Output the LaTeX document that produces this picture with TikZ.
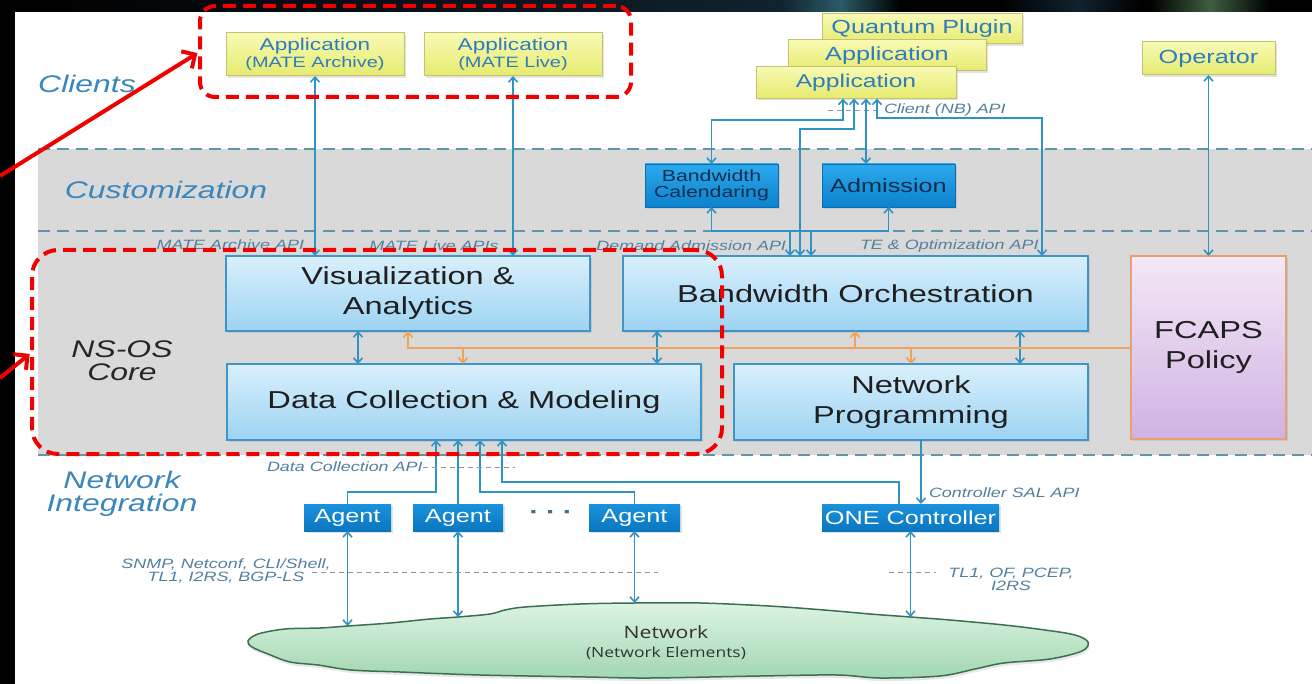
\documentclass[tikz,border=0pt]{standalone}
\usepackage{fontspec}
\setmainfont[FakeStretch=1.33]{Liberation Sans}
\newfontfamily\cloudfont[FakeStretch=1.25]{Open Sans}
\usetikzlibrary{arrows.meta,shadows}

\newcommand\fsz[2]{\fontsize{#1}{#2}\selectfont}

\definecolor{panelgray}{HTML}{D9D9D9}
\definecolor{layerteal}{HTML}{5D98AA}
\definecolor{linkblue}{HTML}{2F93C4}
\definecolor{feedorange}{HTML}{F0A35A}
\definecolor{tagblue}{HTML}{52809F}
\definecolor{bandblue}{HTML}{3A86BD}
\definecolor{coretop}{HTML}{D9F0FC}
\definecolor{corebot}{HTML}{9DD3F3}
\definecolor{coreedge}{HTML}{3F95C8}
\definecolor{custtop}{HTML}{2CAAEE}
\definecolor{custbot}{HTML}{0C80CC}
\definecolor{custedge}{HTML}{0A6FB0}
\definecolor{custtext}{HTML}{0F2D4D}
\definecolor{agenttop}{HTML}{1A92DC}
\definecolor{agentbot}{HTML}{0A76C0}
\definecolor{ytop}{HTML}{F8FAB4}
\definecolor{ybot}{HTML}{E6EB6E}
\definecolor{yedge}{HTML}{C2C270}
\definecolor{ytext}{HTML}{2E7BBD}
\definecolor{fctop}{HTML}{F4E8F7}
\definecolor{fcbot}{HTML}{CFB2E3}
\definecolor{fcedge}{HTML}{E8A070}
\definecolor{cloudtop}{HTML}{DDF4E3}
\definecolor{cloudbot}{HTML}{A3D7B2}
\definecolor{cloudedge}{HTML}{3A7050}
\definecolor{hintgray}{HTML}{8A9AA5}
\definecolor{calloutred}{HTML}{F00000}
\definecolor{stripA}{HTML}{10222E}
\definecolor{stripB}{HTML}{2C5A66}
\definecolor{stripC}{HTML}{3E5E40}
\definecolor{dotblue}{HTML}{3B6F95}

\tikzset{
  dims/.style 2 args={minimum width=#1pt, minimum height=#2pt},
  softshadow/.style={drop shadow={shadow xshift=1.5pt, shadow yshift=-2pt, opacity=0.22}},
  corebox/.style={draw=coreedge, line width=1.2pt, top color=coretop, bottom color=corebot,
    text=black!88, align=center, font=\fsz{24.5}{30}, softshadow},
  custbox/.style={draw=custedge, line width=0.8pt, top color=custtop, bottom color=custbot,
    text=custtext, align=center, softshadow},
  agentbox/.style={top color=agenttop, bottom color=agentbot, text=white,
    font=\fsz{19}{19}, softshadow},
  ybox/.style={draw=yedge, line width=1pt, top color=ytop, bottom color=ybot,
    text=ytext, align=center, softshadow},
  fcbox/.style={draw=fcedge, line width=1.2pt, top color=fctop, bottom color=fcbot,
    text=black!88, align=center, font=\fsz{24.5}{30}, softshadow},
  link/.style={draw=linkblue, line width=1.6pt},
  twoway/.style={link, {Straight Barb[length=5pt,width=9pt]}-{Straight Barb[length=5pt,width=9pt]}},
  oneway/.style={link, -{Straight Barb[length=5pt,width=9pt]}},
  feedline/.style={draw=feedorange, line width=1.8pt},
  feedtip/.style={feedline, -{Straight Barb[length=5pt,width=9pt]}},
  tag/.style={font=\fsz{13.5}{13}\itshape, text=tagblue},
  layerlabel/.style={font=\fsz{24}{23}\itshape, text=bandblue, align=center},
  layerline/.style={draw=layerteal, line width=2pt, dash pattern=on 12pt off 7pt},
  hint/.style={draw=hintgray, line width=0.9pt, dash pattern=on 5pt off 4pt},
  redcallout/.style={draw=calloutred, line width=4pt, dash pattern=on 13pt off 7pt},
  redpointer/.style={draw=calloutred, line width=4pt, -{Straight Barb[length=10pt,width=20pt]}},
}

\begin{document}
\begin{tikzpicture}[x=1pt, y=-1pt, every node/.style={inner sep=0pt, outer sep=0pt}]
\useasboundingbox (0,0) rectangle (1312,684);

% frame and top strip
\fill[black] (0,0) rectangle (1312,684);
\shade[left color=black, right color=stripA] (15,0) rectangle (780,12);
\shade[left color=stripA, right color=stripB] (780,0) rectangle (840,12);
\shade[left color=stripB, right color=black] (840,0) rectangle (900,12);
\shade[left color=black, right color=stripA] (1000,0) rectangle (1080,12);
\shade[left color=stripA, right color=black] (1080,0) rectangle (1140,12);
\shade[left color=black, right color=stripC] (1150,0) rectangle (1210,12);
\shade[left color=stripC, right color=black] (1210,0) rectangle (1270,12);
\fill[white] (15,12) rectangle (1312,684);

% layer bands
\fill[panelgray] (38,149) rectangle (1312,455);
\draw[layerline] (38,149) -- (1312,149);
\draw[layerline] (38,231) -- (1312,231);
\draw[layerline] (38,455) -- (1312,455);

% layer names
\node[layerlabel] (clients) at (87,84) {Clients};
\node[layerlabel] (custom) at (166,190) {Customization};
\node[layerlabel, text=black!85] (nsos) at (122,361) {NS-OS\\Core};
\node[layerlabel] (netint) at (122,494) {Network\\Integration};

% network cloud
\draw[cloudedge, line width=1.5pt, top color=cloudtop, bottom color=cloudbot,
      drop shadow={shadow xshift=1pt, shadow yshift=-3pt, opacity=0.18}]
  plot[smooth cycle, tension=0.55] coordinates {
    (248,641) (258,634) (285,629) (320,628) (348,626) (390,623) (430,619) (458,617)
    (490,614) (505,610) (525,607) (580,604) (634.5,603) (700,603) (769,606) (824,610)
    (870,614) (910.5,617) (950,620) (1004,625) (1045,630) (1075,635) (1088,642)
    (1082,651) (1050,659) (1004,663) (975,669) (940,676) (880,678) (837,675)
    (760,676) (650,678) (586,677) (480,675) (400,672) (351,670) (318,665)
    (290,662) (268,654) (252,647)};
\node[font=\cloudfont\fsz{17}{19}, text=black!80, align=center] (netlabel) at (666,643)
  {Network\\{\fsz{14}{19}(Network Elements)}};
\coordinate (n1) at (347.5,626);
\coordinate (n2) at (458,617);
\coordinate (n3) at (634.5,603);
\coordinate (n4) at (910.5,617);

% client boxes
\node[ybox, dims={178}{43}, font=\fsz{17}{17}] (app1) at (315,54.5)
  {Application\\{\fsz{15}{17}(MATE Archive)}};
\node[ybox, dims={178}{43}, font=\fsz{17}{17}] (app2) at (513,54.5)
  {Application\\{\fsz{15}{17}(MATE Live)}};
\node[ybox, dims={200}{30}, font=\fsz{19}{19}] (qplug) at (922,29) {Quantum Plugin};
\node[ybox, dims={198}{31}, font=\fsz{19}{19}] (appmid) at (887,55.5) {Application};
\node[ybox, dims={200}{32}, font=\fsz{18.5}{19}] (appfront) at (856,82.5) {Application};
\node[ybox, dims={133}{33}, font=\fsz{19}{19}] (operator) at (1208.5,58.5) {Operator};

% customization boxes
\node[custbox, dims={133}{43}, font=\fsz{16}{16}] (bwcal) at (711.5,185.5) {Bandwidth\\Calendaring};
\node[custbox, dims={133}{43}, font=\fsz{19}{19}] (admission) at (888.5,185.5) {Admission};

% core boxes
\node[corebox, dims={364}{75}] (viz) at (408,293.5) {Visualization \&\\Analytics};
\node[corebox, dims={465}{75}] (bworch) at (855.5,293.5) {Bandwidth Orchestration};
\node[corebox, dims={474}{76}] (datacoll) at (464,402) {Data Collection \& Modeling};
\node[corebox, dims={354}{76}] (netprog) at (911,402) {Network\\Programming};
\node[fcbox, dims={155}{183}] (fcaps) at (1208.5,347.5) {FCAPS\\Policy};

% southbound boxes
\node[agentbox, dims={87}{27}] (agent1) at (347.5,517.5) {Agent};
\node[agentbox, dims={90}{27}] (agent2) at (458,517.5) {Agent};
\node[agentbox, dims={91}{27}] (agent3) at (634.5,517.5) {Agent};
\node[agentbox, dims={177}{27}] (onec) at (910.5,517.5) {ONE Controller};
\node[font=\fsz{22}{22}\bfseries, text=dotblue] (dots) at (551,515) {·\hspace{7pt}·\hspace{7pt}·};

% API hint lines
\coordinate (nbh1) at (828,110);
\coordinate (nbh2) at (882,110);
\draw[hint] (nbh1) -- (nbh2);
\coordinate (dch) at (515,467);
\coordinate (sb1) at (312,572);
\coordinate (sb2) at (658,572);
\draw[hint] (sb1) -- (sb2);
\coordinate (ct1) at (889,572);
\coordinate (ct2) at (936,572);
\draw[hint] (ct1) -- (ct2);

% clients to analytics
\draw[twoway] (app1.south) -- (app1.south |- viz.north);
\draw[twoway] (app2.south) -- (app2.south |- viz.north);

% northbound client API
\coordinate (ca1) at (843,120);
\coordinate (ca2) at (854,129);
\coordinate (cb2) at (800,129);
\coordinate (ca3) at (866,140);
\coordinate (ca4) at (877,118);
\coordinate (cb4) at (1042,118);
\draw[twoway] (ca1 |- appfront.south) -- (ca1) -| (bwcal.north);
\draw[twoway] (ca2 |- appfront.south) -- (ca2) -- (cb2) -- (cb2 |- bworch.north);
\draw[twoway] (ca3 |- appfront.south) -- (ca3 |- admission.north);
\draw[twoway] (ca4 |- appfront.south) -- (ca4) -- (cb4) -- (cb4 |- bworch.north);

% customization to orchestration
\coordinate (k1) at (811,231);
\coordinate (k2) at (790,231);
\draw[twoway] (bwcal.south) -- (bwcal.south |- k1) -- (k1) -- (k1 |- bworch.north);
\draw[twoway] (admission.south) -- (admission.south |- k2) -- (k2) -- (k2 |- bworch.north);

% operator to policy
\draw[twoway] (operator.south) -- (fcaps.north);

% core links
\coordinate (v1) at (358,348);
\coordinate (v2) at (657,348);
\coordinate (v3) at (1020,348);
\draw[twoway] (v1 |- viz.south) -- (v1 |- datacoll.north);
\draw[twoway] (v2 |- bworch.south) -- (v2 |- datacoll.north);
\draw[twoway] (v3 |- bworch.south) -- (v3 |- netprog.north);

% policy feed
\coordinate (o1) at (408,348);
\coordinate (o2) at (463,348);
\coordinate (o3) at (855,348);
\coordinate (o4) at (911,348);
\draw[feedline, {Straight Barb[length=5pt,width=9pt]}-] (o1 |- viz.south) -- (o1) -- (fcaps.west |- o1);
\draw[feedtip] (o2) -- (o2 |- datacoll.north);
\draw[feedtip] (o3) -- (o3 |- bworch.south);
\draw[feedtip] (o4) -- (o4 |- netprog.north);

% data collection inputs
\coordinate (d1) at (436,492);
\coordinate (d3) at (480,492);
\coordinate (d4) at (502,482);
\coordinate (d4b) at (899,482);
\draw[oneway] (agent1.north) |- (d1) -- (d1 |- datacoll.south);
\draw[oneway] (agent2.north) -- (agent2.north |- datacoll.south);
\draw[oneway] (agent3.north) |- (d3) -- (d3 |- datacoll.south);
\draw[oneway] (d4b |- onec.north) -- (d4b) -- (d4) -- (d4 |- datacoll.south);

% controller
\coordinate (np) at (921,470);
\draw[oneway] (np |- netprog.south) -- (np |- onec.north);

% southbound to network
\draw[twoway] (agent1.south) -- (n1);
\draw[twoway] (agent2.south) -- (n2);
\draw[twoway] (agent3.south) -- (n3);
\draw[twoway] (onec.south) -- (n4);

% API labels
\node[tag, anchor=east] (mateapi) at (304,245) {MATE Archive API};
\node[tag] (liveapi) at (434,246) {MATE Live APIs};
\node[tag, anchor=east] (demapi) at (786,246) {Demand Admission API};
\node[tag, anchor=west] (teapi) at (860,246) {TE \& Optimization API};
\node[tag, anchor=west] (nbapi) at (884,110) {Client (NB) API};
\node[tag, anchor=west] (dcapi) at (267,467) {Data Collection API};
\draw[hint] (dcapi.east) -- (dch);
\node[tag, anchor=west] (salapi) at (929,493) {Controller SAL API};
\node[tag, align=center] (sbproto) at (226,571) {SNMP, Netconf, CLI/Shell,\\TL1, I2RS, BGP-LS};
\node[tag, align=center] (ctlproto) at (1011,579) {TL1, OF, PCEP,\\I2RS};

% red callouts
\node[redcallout, rounded corners=15pt, dims={431}{91}] (clientcall) at (415.5,51.5) {};
\node[redcallout, rounded corners=26pt, dims={690}{204}] (corecall) at (377,352) {};
\coordinate (p1) at (0,176);
\coordinate (p2) at (0,378);
\draw[redpointer, shorten >=3pt] (p1) -- (clientcall.west);
\draw[redpointer, shorten >=3pt] (p2) -- (corecall.west);
\end{tikzpicture}
\end{document}
